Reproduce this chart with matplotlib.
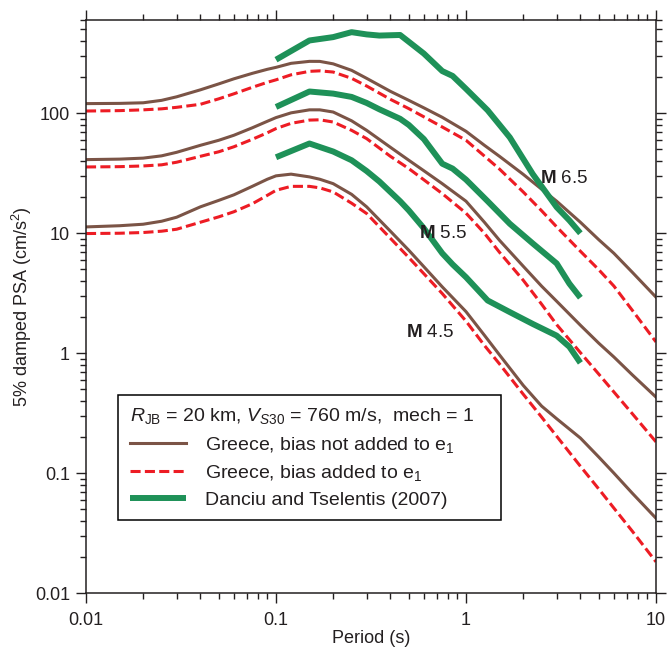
import matplotlib
matplotlib.use("Agg")
import matplotlib.pyplot as plt
from matplotlib.ticker import LogLocator, NullFormatter

plt.rcParams["font.family"] = ["Liberation Sans", "DejaVu Sans"]
plt.rcParams["mathtext.fontset"] = "custom"
plt.rcParams["mathtext.rm"] = "Liberation Sans"
plt.rcParams["mathtext.it"] = "Liberation Sans:italic"
plt.rcParams["mathtext.bf"] = "Liberation Sans:bold"

TEXT = "#231f20"
BROWN = "#7b5446"
RED = "#ed1c24"
GREEN = "#1e9158"

# Greece GMPE, 5% damped PSA (cm/s^2) at RJB = 20 km
periods = [0.01, 0.015, 0.02, 0.025, 0.03, 0.04, 0.05, 0.06, 0.075, 0.09,
           0.1, 0.12, 0.15, 0.17, 0.2, 0.25, 0.3, 0.4, 0.5, 0.6, 0.75,
           1.0, 1.25, 1.5, 2.0, 2.5, 3.0, 4.0, 5.0, 6.0, 7.5, 10.0]

m65_no_bias = [120.5, 121, 122.4, 128.3, 137.3, 157, 176, 193.9, 215.4, 232.8,
               241.7, 261.1, 271.2, 271, 258.5, 228.2, 195.7, 152.5, 128.3, 111.1, 92.6,
               70.8, 54.1, 43.8, 31, 23.3, 18.5, 12.35, 8.83, 6.81, 4.73, 2.93]
m65_bias = [104.5, 105.3, 106.9, 109, 112.2, 118.9, 132.1, 145.4, 164.7, 181.3,
            190.2, 209.4, 223.9, 226, 220.9, 195.7, 168.9, 130.8, 109.4, 93.5, 76.9,
            59.6, 44, 34.3, 22.1, 15.4, 11.3, 7.08, 4.96, 3.63, 2.28, 1.24]

m55_no_bias = [41.1, 41.5, 42.3, 44.2, 47.3, 54.1, 59.6, 65.6, 75.7, 85.8,
               92.1, 100.9, 106.9, 106.9, 102.5, 86.6, 72.1, 52.1, 40.6, 33.2, 25.9,
               18.5, 12.35, 8.74, 5.31, 3.62, 2.71, 1.71, 1.21, 0.93, 0.66, 0.43]
m55_bias = [35.7, 35.9, 36.4, 37.2, 39.1, 43.8, 47.8, 52.6, 60.7, 68.8,
            74.6, 82.5, 87.8, 88.3, 84.6, 72.1, 61.5, 43.8, 34.6, 27.9, 21.4,
            14.7, 10.0, 6.94, 4.06, 2.56, 1.73, 1.01, 0.668, 0.475, 0.313, 0.182]

m45_no_bias = [11.29, 11.55, 11.89, 12.59, 13.6, 16.6, 18.8, 20.9, 24.6, 28.2,
               30.1, 31.1, 29.5, 28.2, 25.9, 21.1, 16.6, 10.4, 7.21, 5.26, 3.57,
               2.22, 1.41, 0.968, 0.539, 0.362, 0.284, 0.196, 0.136, 0.1, 0.068, 0.042]
m45_bias = [9.94, 10.0, 10.14, 10.4, 10.8, 12.35, 13.7, 15.1, 17.6, 20.7,
            22.8, 24.6, 24.6, 23.9, 22.1, 17.8, 14.6, 9.08, 6.27, 4.6, 3.14,
            1.85, 1.16, 0.814, 0.455, 0.293, 0.203, 0.114, 0.0736, 0.0511, 0.0328, 0.0182]

# Danciu and Tselentis (2007)
dt_periods = [0.1, 0.15, 0.2, 0.25, 0.3, 0.35, 0.45, 0.5, 0.6, 0.75, 0.85,
              1.0, 1.3, 1.7, 2.25, 3.0, 3.5, 4.0]
dt_m65 = [280, 405, 432, 475, 455, 445, 450, 395, 315, 225, 205,
          160, 106, 63, 31, 16.5, 12.8, 10]
dt_m55 = [113, 152, 146, 137, 122, 108, 90, 80, 61, 38, 34.6,
          28, 18.5, 12, 8.2, 5.6, 3.8, 2.9]
dt_m45 = [43, 56, 48, 40.6, 33, 27, 18.5, 15.5, 11, 6.8, 5.5,
          4.3, 2.75, 2.2, 1.75, 1.4, 1.13, 0.83]

mag_labels = ["6.5", "5.5", "4.5"]
label_pos = [(2.45, 28.7), (0.568, 10.0), (0.483, 1.48)]

x_ticks = [0.01, 0.1, 1, 10]
x_ticklabels = ["0.01", "0.1", "1", "10"]
y_ticks = [0.01, 0.1, 1, 10, 100]
y_ticklabels = ["0.01", "0.1", "1", "10", "100"]

fig = plt.figure(figsize=(6.68, 6.51), dpi=100)
ax = fig.add_axes([86 / 668, 1 - 593 / 651, 570 / 668, 573 / 651])

no_bias = [m65_no_bias, m55_no_bias, m45_no_bias]
bias = [m65_bias, m55_bias, m45_bias]
dt = [dt_m65, dt_m55, dt_m45]

for i in range(3):
    ax.plot(periods, no_bias[i], color=BROWN, lw=2.2,
            label="Greece, bias not added to e$_1$" if i == 0 else None)
    ax.plot(periods, bias[i], color=RED, lw=2.2, dashes=(3.3, 1.4),
            label="Greece, bias added to e$_1$" if i == 0 else None)
    ax.plot(dt_periods, dt[i], color=GREEN, lw=4.3, solid_capstyle="butt",
            label="Danciu and Tselentis (2007)" if i == 0 else None)

for lab, (xp, yp) in zip(mag_labels, label_pos):
    ax.text(xp, yp, r"$\mathbf{M}$ " + lab, fontsize=13.5, color=TEXT,
            ha="left", va="center")

ax.set_xscale("log")
ax.set_yscale("log")
ax.set_xlim(0.01, 10)
ax.set_ylim(0.01, 600)

ax.set_xticks(x_ticks)
ax.set_xticklabels(x_ticklabels)
ax.set_yticks(y_ticks)
ax.set_yticklabels(y_ticklabels)
ax.xaxis.set_minor_locator(LogLocator(base=10, subs=range(2, 10), numticks=20))
ax.yaxis.set_minor_locator(LogLocator(base=10, subs=range(2, 10), numticks=20))
ax.xaxis.set_minor_formatter(NullFormatter())
ax.yaxis.set_minor_formatter(NullFormatter())

ax.tick_params(which="both", direction="out", top=True, right=True,
               labelsize=13, colors=TEXT, width=1.0)
ax.tick_params(which="major", length=7.5)
ax.tick_params(which="minor", length=4.5)
ax.tick_params(axis="x", pad=6)
ax.tick_params(axis="y", pad=4)
for s in ax.spines.values():
    s.set_linewidth(1.1)
    s.set_color(TEXT)

ax.set_xlabel("Period (s)", fontsize=13, color=TEXT, labelpad=1)
ax.set_ylabel("5% damped PSA (cm/s$^2$)", fontsize=13, color=TEXT, labelpad=1)

leg = ax.legend(loc="lower left", bbox_to_anchor=(0.056, 0.127, 0.672, 0.217),
                mode="expand", borderaxespad=0, fancybox=False,
                edgecolor="black", framealpha=1, fontsize=14,
                title=r"$R_{\mathrm{JB}}$ = 20 km, $V_{S30}$ = 760 m/s,  mech = 1",
                title_fontsize=14, alignment="left", handlelength=2.9,
                handletextpad=1.0, labelspacing=0.42, borderpad=0.6)
leg.get_frame().set_linewidth(1.1)
for t in leg.get_texts():
    t.set_color(TEXT)
leg.get_title().set_color(TEXT)

fig.savefig("out.png", dpi=100)
